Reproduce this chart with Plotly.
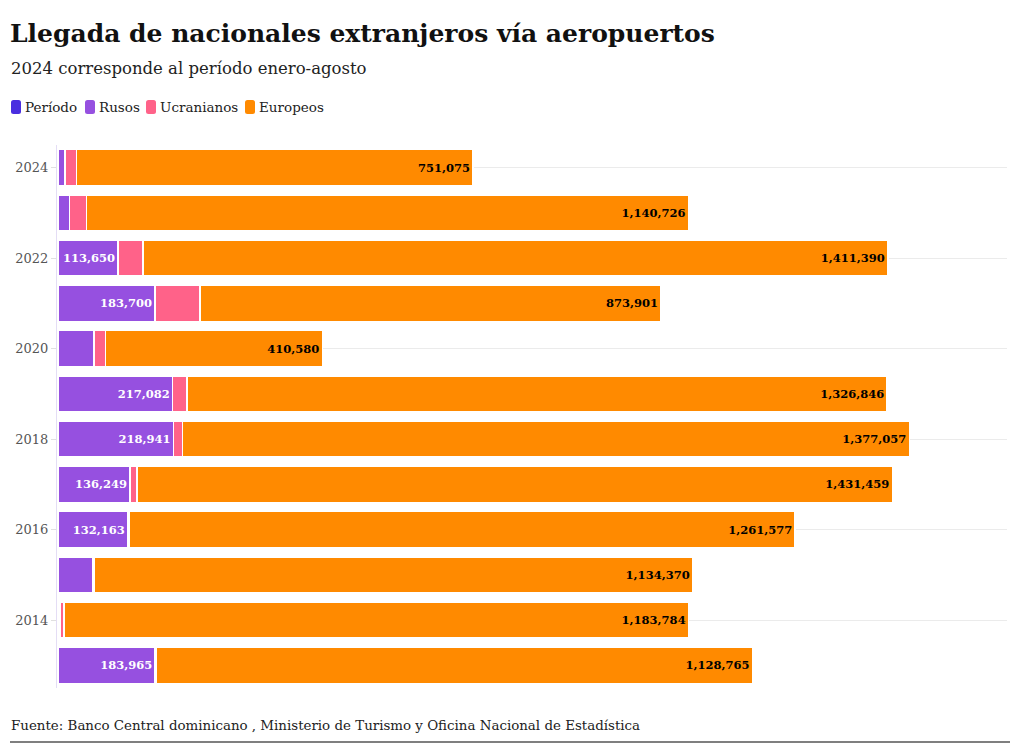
import plotly.graph_objects as go

years = [2024, 2023, 2022, 2021, 2020, 2019, 2018, 2017, 2016, 2015, 2014, 2013]
periodo = [2024, 2023, 2022, 2021, 2020, 2019, 2018, 2017, 2016, 2015, 2014, 2013]
rusos = [13000, 22000, 113650, 183700, 68000, 217082, 218941, 136249, 132163, 66000, 4000, 183965]
ucranianos = [22000, 32000, 47000, 85000, 22000, 27000, 17000, 13000, 3000, 2000, 7000, 3000]
europeos = [751075, 1140726, 1411390, 873901, 410580, 1326846, 1377057, 1431459, 1261577, 1134370, 1183784, 1128765]
tick_years = [2024, 2022, 2020, 2018, 2016, 2014]
series_names = ["Período", "Rusos", "Ucranianos", "Europeos"]
series_colors = ["#4a2ee0", "#9650e0", "#ff6289", "#ff8a00"]

FONT = "DejaVu Serif"
cats = [str(y) for y in years]

def fmt(v):
    return f"{v:,}"

rusos_text = [fmt(v) if v >= 100000 else "" for v in rusos]
europeos_text = [fmt(v) for v in europeos]

W, H = 1020, 754
L, R, T, B = 57, 13, 145, 66
PW, PH = W - L - R, H - T - B

def px_x(x):
    return (x - L) / PW

def px_y(y):
    return 1 - (y - T) / PH

line = dict(color="white", width=1.5)
fig = go.Figure()
fig.add_trace(go.Bar(y=cats, x=periodo, name=series_names[0], orientation="h",
                     marker=dict(color=series_colors[0], line=line), hoverinfo="skip"))
fig.add_trace(go.Bar(y=cats, x=rusos, name=series_names[1], orientation="h",
                     marker=dict(color=series_colors[1], line=line),
                     text=rusos_text, textposition="inside", insidetextanchor="end",
                     textfont=dict(family=FONT, size=11.5, color="white", weight="bold"),
                     textangle=0))
fig.add_trace(go.Bar(y=cats, x=ucranianos, name=series_names[2], orientation="h",
                     marker=dict(color=series_colors[2], line=line)))
fig.add_trace(go.Bar(y=cats, x=europeos, name=series_names[3], orientation="h",
                     marker=dict(color=series_colors[3], line=line),
                     text=europeos_text, textposition="inside", insidetextanchor="end",
                     textfont=dict(family=FONT, size=11.5, color="black", weight="bold"),
                     textangle=0))

fig.update_layout(
    width=W, height=H,
    barmode="stack", bargap=0.2,
    plot_bgcolor="white", paper_bgcolor="white",
    font=dict(family=FONT, size=14, color="#333"),
    margin=dict(l=L, r=R, t=T, b=B, autoexpand=False),
    title=dict(text="<b>Llegada de nacionales extranjeros vía aeropuertos</b>",
               x=10/W, xanchor="left", xref="container", y=1-33/H, yanchor="middle",
               yref="container",
               font=dict(family=FONT, size=25, color="#111")),
    showlegend=False,
    xaxis=dict(range=[0, 1800000], showgrid=False, showticklabels=False, zeroline=False,
               fixedrange=True),
    yaxis=dict(categoryorder="array", categoryarray=cats[::-1],
               tickmode="array", tickvals=[str(y) for y in tick_years],
               ticktext=[str(y) for y in tick_years],
               showgrid=True, gridcolor="#ebebeb", gridwidth=1,
               ticks="outside", ticklen=5, tickcolor="#e0e0e0",
               showline=True, linecolor="#e4ddf5", linewidth=1,
               automargin=False,
               tickfont=dict(family=FONT, size=13, color="#555")),
)

# custom legend (swatch + label), positions in pixels
legend_swatch_x = [11, 85, 146, 245]
legend_text_x = [23, 97, 158, 257]
LY = 107
for n, c, sx, tx in zip(series_names, series_colors, legend_swatch_x, legend_text_x):
    x0, x1 = px_x(sx), px_x(sx + 10)
    y0, y1 = px_y(LY + 7), px_y(LY - 7)
    rx, ry = 2.5 / PW, 2.5 / PH
    path = (f"M {x0+rx} {y0} L {x1-rx} {y0} Q {x1} {y0} {x1} {y0+ry} "
            f"L {x1} {y1-ry} Q {x1} {y1} {x1-rx} {y1} L {x0+rx} {y1} "
            f"Q {x0} {y1} {x0} {y1-ry} L {x0} {y0+ry} Q {x0} {y0} {x0+rx} {y0} Z")
    fig.add_shape(type="path", path=path, xref="paper", yref="paper",
                  fillcolor=c, line=dict(width=0))
    fig.add_annotation(text=n, xref="paper", yref="paper", x=px_x(tx), y=px_y(LY),
                       xanchor="left", yanchor="middle", showarrow=False,
                       font=dict(family=FONT, size=13.5, color="#222"))

fig.add_annotation(text="2024 corresponde al período enero-agosto", xref="paper", yref="paper",
                   x=px_x(9), y=px_y(68), xanchor="left", yanchor="middle",
                   showarrow=False, font=dict(family=FONT, size=16.5, color="#222"))
fig.add_annotation(text="Fuente: Banco Central dominicano , Ministerio de Turismo y Oficina Nacional de Estadística",
                   xref="paper", yref="paper", x=px_x(9), y=px_y(725),
                   xanchor="left", yanchor="middle", showarrow=False,
                   font=dict(family=FONT, size=13.4, color="#222"))
fig.add_shape(type="line", xref="paper", yref="paper", x0=px_x(10), x1=px_x(1010),
              y0=px_y(742), y1=px_y(742), line=dict(color="black", width=1.2))

fig.write_html("out.html", config={"displayModeBar": False},
               post_script="document.body.style.margin='0';")
